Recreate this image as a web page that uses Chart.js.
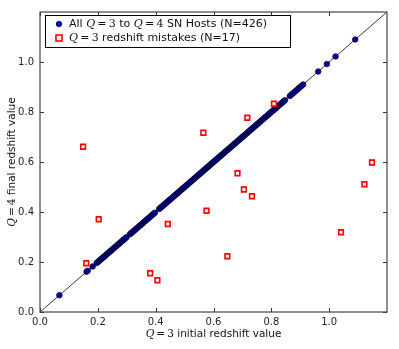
<!DOCTYPE html>
<html>
<head>
<meta charset="utf-8">
<script src="https://cdn.jsdelivr.net/npm/chart.js@4.4.1/dist/chart.umd.min.js"></script>
<style>
  html, body { margin: 0; padding: 0; background: #fff; }
  #wrap { width: 399px; height: 349px; }
</style>
</head>
<body>
<div id="wrap"><canvas id="chart" width="399" height="349"></canvas></div>
<script>
// ---------- Data ----------
// Q=3 hosts whose redshift did not change (plotted on the 1:1 line)
const hostZ = [
  0.067, 0.161, 0.165, 0.182,
  0.196, 0.199, 0.203, 0.207, 0.210, 0.214, 0.218, 0.221, 0.225, 0.229, 0.232, 0.236,
  0.240, 0.243, 0.247, 0.251, 0.255, 0.258, 0.262, 0.266, 0.270, 0.273, 0.277, 0.281,
  0.285, 0.289, 0.292, 0.296, 0.299,
  0.311, 0.315, 0.318, 0.322, 0.326, 0.330, 0.333, 0.337, 0.341, 0.345, 0.348, 0.352,
  0.356, 0.360, 0.363, 0.367, 0.371, 0.375, 0.378, 0.382, 0.386, 0.390, 0.394, 0.397,
  0.412, 0.416, 0.419, 0.423, 0.427, 0.431, 0.434, 0.438, 0.442, 0.446, 0.449, 0.453,
  0.457, 0.461, 0.464, 0.468, 0.472, 0.476, 0.479, 0.483, 0.487, 0.491, 0.494, 0.498,
  0.502, 0.506, 0.509, 0.513, 0.517, 0.521, 0.524, 0.528, 0.532, 0.536, 0.539, 0.543,
  0.547, 0.551, 0.554, 0.558, 0.562, 0.566, 0.569, 0.573, 0.577, 0.581, 0.584, 0.588,
  0.592, 0.596, 0.599, 0.603, 0.607, 0.611, 0.614, 0.618, 0.622, 0.626, 0.629, 0.633,
  0.637, 0.641, 0.644, 0.648, 0.652, 0.656, 0.659, 0.663, 0.667, 0.671, 0.674, 0.678,
  0.682, 0.686, 0.689, 0.693, 0.697, 0.701, 0.704, 0.708, 0.712, 0.716, 0.719, 0.723,
  0.727, 0.731, 0.734, 0.738, 0.742, 0.746, 0.749, 0.753, 0.757, 0.761, 0.764, 0.768,
  0.772, 0.776, 0.779, 0.783, 0.787, 0.791, 0.794, 0.798, 0.802, 0.806, 0.809, 0.813,
  0.817, 0.821, 0.824, 0.828, 0.832, 0.836, 0.839, 0.843, 0.847,
  0.864, 0.870, 0.875, 0.881, 0.887, 0.893, 0.898, 0.904, 0.910,
  0.962, 0.992, 1.022, 1.090
];

// Q=3 redshift mistakes: initial (x) and final (y)
const mistakeInitial = [0.149, 0.160, 0.203, 0.381, 0.406, 0.442, 0.565, 0.576, 0.648,
  0.683, 0.705, 0.717, 0.733, 0.809, 1.041, 1.122, 1.148];
const mistakeFinal = [0.661, 0.195, 0.371, 0.155, 0.127, 0.352, 0.717, 0.405, 0.223,
  0.555, 0.490, 0.777, 0.463, 0.833, 0.319, 0.511, 0.598];

const tickValues = [0.0, 0.2, 0.4, 0.6, 0.8, 1.0];
const axisMax = 1.2;

// ---------- Fonts ----------
const SANS = "'DejaVu Sans', sans-serif";
const SERIF = "'DejaVu Serif', serif";

// draw a line of text made of runs with different fonts
function drawRuns(ctx, runs, x, y, align = "left") {
  let total = 0;
  runs.forEach((r) => { ctx.font = r.font; total += ctx.measureText(r.t).width; });
  let cx = align === "center" ? x - total / 2 : x;
  ctx.textBaseline = "middle";
  ctx.textAlign = "left";
  runs.forEach((r) => {
    ctx.font = r.font;
    ctx.fillText(r.t, cx, y);
    cx += ctx.measureText(r.t).width;
  });
}

function qRuns(n, size) {
  return [
    { t: "Q", font: `italic ${size}px ${SERIF}` },
    { t: "\u2009=\u2009" + n, font: `${size}px ${SERIF}` }
  ];
}

// ---------- Frame, inside ticks, legend and axis titles ----------
const decorPlugin = {
  id: "decor",
  afterDatasetsDraw(chart) {
    const { ctx, chartArea: a, scales } = chart;
    ctx.save();
    ctx.strokeStyle = "#333";
    ctx.lineWidth = 1;
    tickValues.forEach((v) => {
      const px = Math.round(scales.x.getPixelForValue(v)) + 0.5;
      const py = Math.round(scales.y.getPixelForValue(v)) + 0.5;
      ctx.beginPath();
      ctx.moveTo(px, a.bottom); ctx.lineTo(px, a.bottom - 4);
      ctx.moveTo(px, a.top); ctx.lineTo(px, a.top + 4);
      ctx.moveTo(a.left, py); ctx.lineTo(a.left + 4, py);
      ctx.moveTo(a.right, py); ctx.lineTo(a.right - 4, py);
      ctx.stroke();
    });
    ctx.strokeStyle = "#444";
    ctx.lineWidth = 1.2;
    ctx.strokeRect(a.left, a.top, a.right - a.left, a.bottom - a.top);
    ctx.restore();
  },
  afterDraw(chart) {
    const { ctx, chartArea: a } = chart;
    ctx.save();

    // legend
    const lx = 45.5, ly = 15.5, lw = 245, lh = 32;
    ctx.fillStyle = "#fff";
    ctx.fillRect(lx, ly, lw, lh);
    ctx.strokeStyle = "#000";
    ctx.lineWidth = 1;
    ctx.strokeRect(lx, ly, lw, lh);

    ctx.fillStyle = "#0000c8";
    ctx.strokeStyle = "#000022";
    ctx.lineWidth = 0.7;
    ctx.beginPath();
    ctx.arc(59, 24, 2.8, 0, Math.PI * 2);
    ctx.fill(); ctx.stroke();

    ctx.fillStyle = "#fff";
    ctx.strokeStyle = "#ff0000";
    ctx.lineWidth = 1.6;
    ctx.fillRect(56, 35, 6, 6);
    ctx.strokeRect(56, 35, 6, 6);

    ctx.fillStyle = "#111";
    const sz = 11;
    drawRuns(ctx, [
      { t: "All ", font: `${sz}px ${SANS}` },
      ...qRuns(3, sz),
      { t: " to ", font: `${sz}px ${SANS}` },
      ...qRuns(4, sz),
      { t: " SN Hosts (N=426)", font: `${sz}px ${SANS}` }
    ], 69, 24);
    drawRuns(ctx, [
      ...qRuns(3, sz),
      { t: " redshift mistakes (N=17)", font: `${sz}px ${SANS}` }
    ], 69, 38);

    // x-axis title
    drawRuns(ctx, [
      ...qRuns(3, 10.5),
      { t: " initial redshift value", font: `10.5px ${SANS}` }
    ], (a.left + a.right) / 2, 334, "center");

    // y-axis title
    ctx.translate(12, (a.top + a.bottom) / 2);
    ctx.rotate(-Math.PI / 2);
    drawRuns(ctx, [
      ...qRuns(4, 10.5),
      { t: " final redshift value", font: `10.5px ${SANS}` }
    ], 0, 0, "center");
    ctx.restore();
  }
};

// ---------- Chart ----------
const axisCommon = {
  type: "linear",
  min: 0,
  max: axisMax,
  grid: { display: false, drawTicks: false, tickLength: 0 },
  border: { display: false },
  afterBuildTicks: (s) => { s.ticks = tickValues.map((v) => ({ value: v })); },
  ticks: {
    color: "#222",
    font: { family: "DejaVu Sans", size: 10 },
    callback: (v) => Number(v).toFixed(1)
  }
};

new Chart(document.getElementById("chart"), {
  type: "scatter",
  data: {
    datasets: [
      {
        type: "line",
        label: "1:1",
        data: [{ x: 0, y: 0 }, { x: axisMax, y: axisMax }],
        borderColor: "#000",
        borderWidth: 0.8,
        pointRadius: 0,
        order: 0
      },
      {
        label: "All Q=3 to Q=4 SN Hosts (N=426)",
        data: hostZ.map((z) => ({ x: z, y: z })),
        pointStyle: "circle",
        pointRadius: 2.8,
        backgroundColor: "#0000c8",
        borderColor: "#000022",
        borderWidth: 0.7,
        order: 2
      },
      {
        label: "Q=3 redshift mistakes (N=17)",
        data: mistakeInitial.map((x, i) => ({ x, y: mistakeFinal[i] })),
        pointStyle: "rect",
        pointRadius: 3.3,
        backgroundColor: "#fff",
        borderColor: "#ff0000",
        borderWidth: 1.6,
        order: 1
      }
    ]
  },
  options: {
    responsive: false,
    devicePixelRatio: 1,
    animation: false,
    layout: { padding: { top: 10, right: 12, left: 0, bottom: 0 } },
    plugins: { legend: { display: false }, tooltip: { enabled: false } },
    scales: {
      x: {
        ...axisCommon,
        ticks: { ...axisCommon.ticks, padding: 4, maxRotation: 0 },
        afterFit: (s) => { s.height = 37; }
      },
      y: {
        ...axisCommon,
        ticks: { ...axisCommon.ticks, padding: 6 },
        afterFit: (s) => { s.width = 40; }
      }
    }
  },
  plugins: [decorPlugin]
});
</script>
</body>
</html>
